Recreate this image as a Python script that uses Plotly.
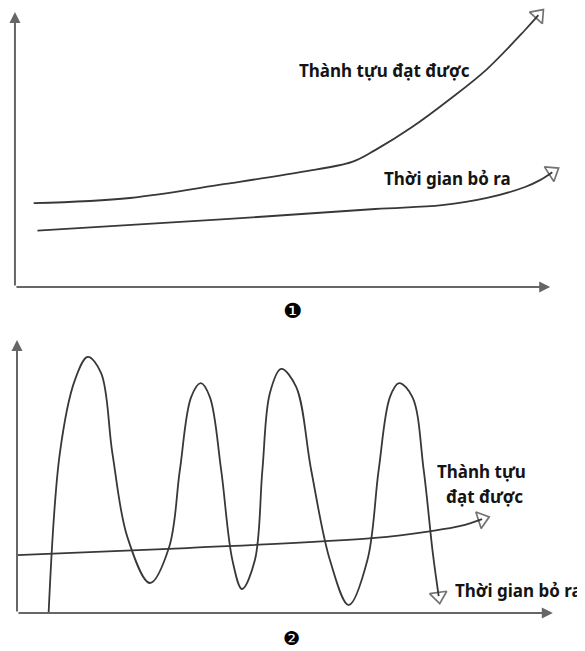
import plotly.graph_objects as go

# Panel 1: effort vs result rising together
thanh_tuu_1_x = [3.5, 21.5, 39.3, 53.3, 63.0, 67.3, 74.2, 81.3, 88.2, 95.3, 97.8]
thanh_tuu_1_y = [30.5, 32.4, 37.5, 41.8, 45.5, 49.8, 58.2, 68.4, 79.3, 93.5, 98.9]
thoi_gian_1_x = [4.2, 39.3, 67.3, 79.8, 88.2, 95.3, 98.1, 100.4]
thoi_gian_1_y = [20.5, 24.7, 28.4, 29.8, 32.4, 36.4, 38.9, 41.8]

# Panel 2: effort swinging up and down, result barely rising
thanh_tuu_2_x = [0.0, 31.7, 66.8, 77.2, 82.8, 86.8]
thanh_tuu_2_y = [21.2, 23.8, 27.5, 30.0, 31.9, 34.4]
thoi_gian_2_x = [5.9, 8.0, 10.8, 13.2, 15.7, 17.8, 20.6, 24.8, 28.4, 30.4, 32.5,
                 34.3, 36.0, 38.1, 40.2, 42.0, 44.4, 45.8, 47.2, 49.3, 52.1, 54.9,
                 58.4, 61.9, 65.4, 67.5, 69.6, 71.3, 73.8, 75.9, 77.6, 78.7]
thoi_gian_2_y = [0.0, 58.6, 85.3, 93.8, 87.9, 58.6, 27.8, 11.0, 24.2, 52.4, 79.1,
                 84.2, 79.1, 52.4, 19.4, 8.8, 19.4, 52.4, 80.6, 89.4, 82.8, 52.4,
                 19.4, 2.9, 19.4, 52.4, 79.1, 84.2, 79.1, 52.4, 22.0, 6.2]

LINE = "#383838"
AXIS = "#666666"
TXT = dict(family="Noto Sans", size=17, color="#141414")

fig = go.Figure()


def curve(x, y, xa, ya):
    fig.add_trace(go.Scatter(
        x=x, y=y, xaxis=xa, yaxis=ya, mode="lines",
        line=dict(color=LINE, width=1.8, shape="spline", smoothing=1.0),
        hoverinfo="skip", showlegend=False,
    ))
    # open arrowhead at the end, turned along the last segment
    fig.add_trace(go.Scatter(
        x=x[-2:], y=y[-2:], xaxis=xa, yaxis=ya, mode="markers",
        marker=dict(symbol="triangle-up-open", size=[0, 15], angleref="previous",
                    color=LINE, line=dict(color=LINE, width=1.7)),
        hoverinfo="skip", showlegend=False,
    ))


curve(thanh_tuu_1_x, thanh_tuu_1_y, "x", "y")
curve(thoi_gian_1_x, thoi_gian_1_y, "x", "y")
curve(thanh_tuu_2_x, thanh_tuu_2_y, "x2", "y2")
curve(thoi_gian_2_x, thoi_gian_2_y, "x2", "y2")

annotations = []
for xr, yr in [("x", "y"), ("x2", "y2")]:
    for tip in [(100, 0), (0, 100)]:
        annotations.append(dict(
            x=tip[0], y=tip[1], ax=0, ay=0, xref=xr, yref=yr, axref=xr, ayref=yr,
            text="", showarrow=True, arrowhead=2, arrowsize=1.1, arrowwidth=2,
            arrowcolor=AXIS, standoff=0,
        ))

labels = [
    ("x", "y", 69.0, 78.9, "Thành tựu đạt được", "center"),
    ("x", "y", 80.9, 39.6, "Thời gian bỏ ra", "center"),
    ("x2", "y2", 86.6, 52.0, "Thành tựu", "center"),
    ("x2", "y2", 87.3, 42.5, "đạt được", "center"),
    ("x2", "y2", 81.3, 8.4, "Thời gian bỏ ra", "left"),
]
for xr, yr, x, y, t, anc in labels:
    annotations.append(dict(x=x, y=y, xref=xr, yref=yr, text="<b>%s</b>" % t,
                            showarrow=False, xanchor=anc, font=TXT))

annotations.append(dict(x=51.8, y=-8.7, xref="x", yref="y", text="❶", showarrow=False,
                        font=dict(family="DejaVu Sans", size=21, color="#000")))
annotations.append(dict(x=51.3, y=-9.3, xref="x2", yref="y2", text="❷", showarrow=False,
                        font=dict(family="DejaVu Sans", size=19, color="#000")))

# ranges are nudged 8px up/left to offset the page's body margin
hidden = dict(visible=False, showgrid=False, zeroline=False, fixedrange=True)
fig.update_layout(
    width=585, height=651,
    margin=dict(l=0, r=0, t=0, b=0),
    paper_bgcolor="white", plot_bgcolor="white",
    xaxis=dict(hidden, domain=[0, 1], range=[-1.3, 108.0]),
    yaxis=dict(hidden, domain=[0.5008, 1], range=[-16.7, 101.5]),
    xaxis2=dict(hidden, domain=[0, 1], range=[-1.68, 107.5]),
    yaxis2=dict(hidden, domain=[0, 0.5008], range=[-16.83, 102.57]),
    annotations=annotations,
)

fig.write_html("out.html")
